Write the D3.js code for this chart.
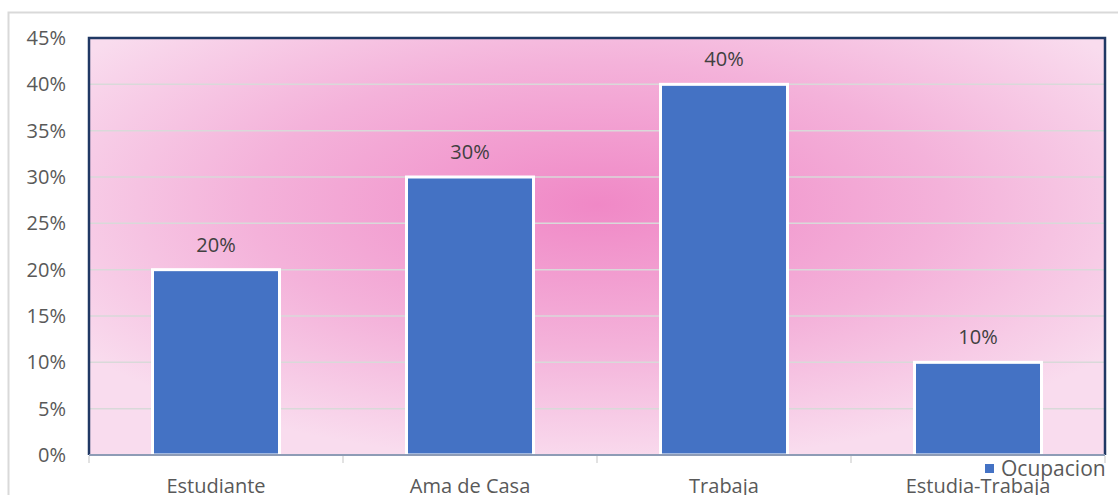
<!DOCTYPE html>
<html>
<head>
<meta charset="utf-8">
<script src="https://cdn.jsdelivr.net/npm/d3@7"></script>
<style>
  html, body { margin: 0; padding: 0; background: #ffffff; overflow: hidden; }
  svg { display: block; font-family: "Open Sans", "Noto Sans", sans-serif; }
</style>
</head>
<body>
<svg id="chart" width="1118" height="495"></svg>
<script>
// Occupation shares
const categories = ["Estudiante", "Ama de Casa", "Trabaja", "Estudia-Trabaja"];
const values = [0.20, 0.30, 0.40, 0.10];
const tickValues = [0, 0.05, 0.10, 0.15, 0.20, 0.25, 0.30, 0.35, 0.40, 0.45];
const seriesName = "Ocupacion";

const svg = d3.select("#chart");
const plot = { left: 89, right: 1105, top: 38, bottom: 455 };

const x = d3.scaleBand()
  .domain(categories)
  .range([plot.left, plot.right])
  .paddingInner(0.5)
  .paddingOuter(0.25);

const y = d3.scaleLinear()
  .domain([0, 0.45])
  .range([plot.bottom, plot.top]);

const pct = d3.format(".0%");

// Pink radial fill of the plot area
const defs = svg.append("defs");
const grad = defs.append("radialGradient")
  .attr("id", "plotFill")
  .attr("cx", 0.5).attr("cy", 0.4).attr("r", 0.62)
  .attr("fx", 0.5).attr("fy", 0.4);
grad.append("stop").attr("offset", "0%").attr("stop-color", "#f088c6");
grad.append("stop").attr("offset", "55%").attr("stop-color", "#f4b2da");
grad.append("stop").attr("offset", "100%").attr("stop-color", "#f9dcee");

// Chart frame
svg.append("path")
  .attr("d", "M8.5,495 V12.5 H1118")
  .attr("fill", "none")
  .attr("stroke", "#d9d9d9")
  .attr("stroke-width", 2);

svg.append("rect")
  .attr("x", plot.left).attr("y", plot.top)
  .attr("width", plot.right - plot.left)
  .attr("height", plot.bottom - plot.top)
  .attr("fill", "url(#plotFill)");

// Horizontal gridlines
svg.append("g")
  .selectAll("line")
  .data(tickValues.slice(1))
  .join("line")
  .attr("x1", plot.left).attr("x2", plot.right)
  .attr("y1", d => y(d)).attr("y2", d => y(d))
  .attr("stroke", "#d9d9d9")
  .attr("stroke-width", 1.5);

// Plot border (left, top, right)
svg.append("path")
  .attr("d", `M${plot.left},${plot.bottom} V${plot.top} H${plot.right} V${plot.bottom}`)
  .attr("fill", "none")
  .attr("stroke", "#203864")
  .attr("stroke-width", 2.5);

// Bars
svg.append("g")
  .selectAll("rect")
  .data(values)
  .join("rect")
  .attr("x", (d, i) => x(categories[i]))
  .attr("y", d => y(d))
  .attr("width", x.bandwidth())
  .attr("height", d => y(0) - y(d))
  .attr("fill", "#4472c4")
  .attr("stroke", "#ffffff")
  .attr("stroke-width", 3);

// Category axis with ticks at band boundaries
svg.append("line")
  .attr("x1", plot.left).attr("x2", plot.right)
  .attr("y1", plot.bottom).attr("y2", plot.bottom)
  .attr("stroke", "#8e9cb6")
  .attr("stroke-width", 2);

const step = x.step();
const boundaries = d3.range(categories.length + 1).map(i => plot.left + i * step);
svg.append("g")
  .selectAll("line")
  .data(boundaries)
  .join("line")
  .attr("x1", d => d).attr("x2", d => d)
  .attr("y1", plot.bottom + 1).attr("y2", plot.bottom + 8)
  .attr("stroke", "#d9d9d9")
  .attr("stroke-width", 1.5);

// Value axis labels
svg.append("g")
  .selectAll("text")
  .data(tickValues)
  .join("text")
  .attr("x", 66)
  .attr("y", d => y(d))
  .attr("dy", "0.35em")
  .attr("text-anchor", "end")
  .attr("font-size", 20)
  .attr("fill", "#595959")
  .text(pct);

// Data labels
svg.append("g")
  .selectAll("text")
  .data(values)
  .join("text")
  .attr("x", (d, i) => x(categories[i]) + x.bandwidth() / 2)
  .attr("y", d => y(d) - 18)
  .attr("text-anchor", "middle")
  .attr("font-size", 20)
  .attr("fill", "#404040")
  .text(pct);

// Category labels
svg.append("g")
  .selectAll("text")
  .data(categories)
  .join("text")
  .attr("x", d => x(d) + x.bandwidth() / 2)
  .attr("y", 493)
  .attr("text-anchor", "middle")
  .attr("font-size", 20)
  .attr("fill", "#595959")
  .text(d => d);

// Legend
const legend = svg.append("g");
legend.append("rect")
  .attr("x", 985).attr("y", 464)
  .attr("width", 9).attr("height", 9)
  .attr("fill", "#4472c4");
legend.append("text")
  .attr("x", 1001).attr("y", 476)
  .attr("font-size", 21)
  .attr("fill", "#595959")
  .text(seriesName);
</script>
</body>
</html>
